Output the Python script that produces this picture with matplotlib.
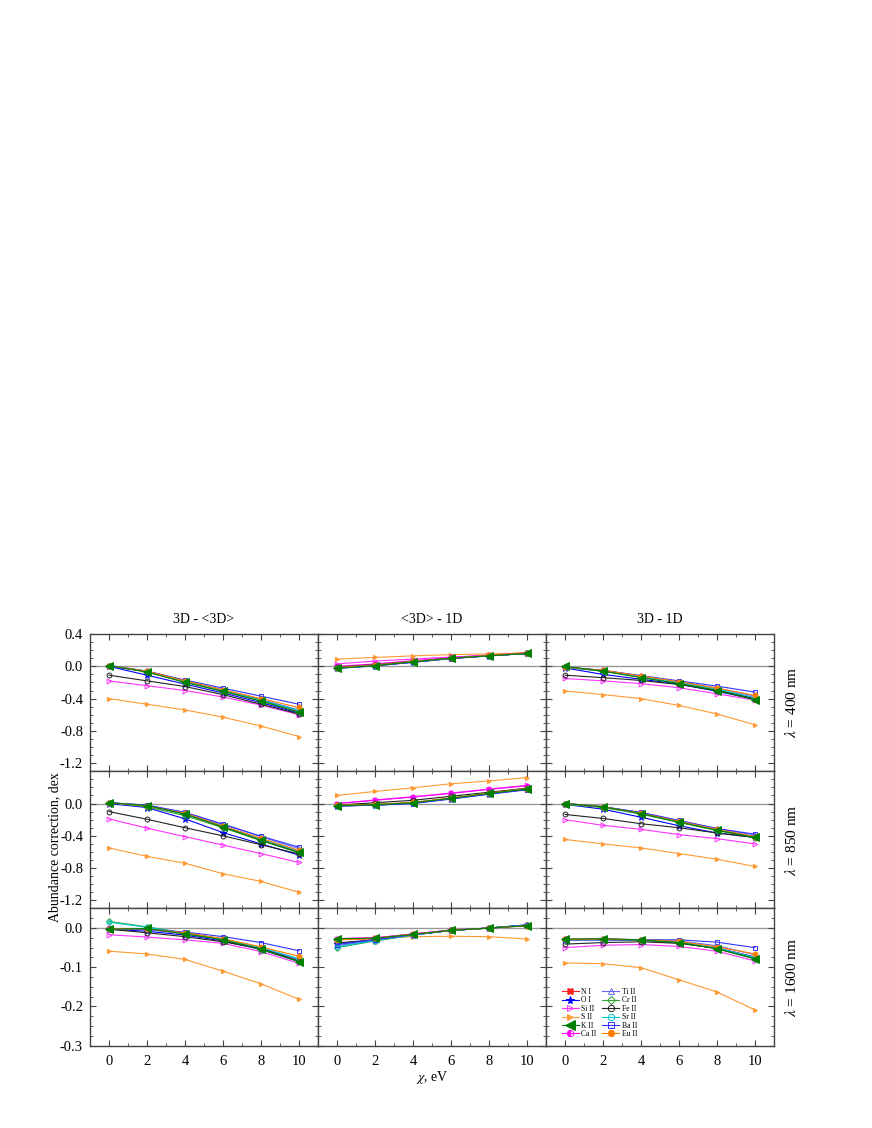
import matplotlib
matplotlib.use("Agg")
import matplotlib.pyplot as plt
from matplotlib.ticker import MultipleLocator, FormatStrFormatter, FixedLocator

plt.rcParams['font.family'] = ['Liberation Serif', 'DejaVu Serif']
plt.rcParams['mathtext.fontset'] = 'stix'
plt.rcParams['axes.unicode_minus'] = False

chi = [0, 2, 4, 6, 8, 10]
species = ['N I', 'O I', 'Si II', 'S II', 'K II', 'Ca II',
           'Ti II', 'Cr II', 'Fe II', 'Sr II', 'Ba II', 'Eu II']
col_titles = ['3D - <3D>', '<3D> - 1D', '3D - 1D']
row_labels = [r'$\lambda$ = 400 nm', r'$\lambda$ = 850 nm', r'$\lambda$ = 1600 nm']
row_yticks = [[-1.2, -0.8, -0.4, 0.0, 0.4],
              [-1.2, -0.8, -0.4, 0.0],
              [-0.3, -0.2, -0.1, 0.0]]

# rows of each array follow the order of `species`
d400_3d_m3d = [
    [0.01, -0.07, -0.19, -0.31, -0.43, -0.56],
    [0.0, -0.11, -0.22, -0.33, -0.45, -0.58],
    [-0.18, -0.24, -0.30, -0.38, -0.48, -0.60],
    [-0.40, -0.47, -0.54, -0.63, -0.74, -0.87],
    [0.01, -0.07, -0.20, -0.31, -0.43, -0.57],
    [0.01, -0.06, -0.18, -0.30, -0.42, -0.55],
    [0.01, -0.06, -0.18, -0.29, -0.41, -0.54],
    [0.01, -0.07, -0.19, -0.30, -0.42, -0.55],
    [-0.11, -0.18, -0.25, -0.35, -0.47, -0.59],
    [0.01, -0.06, -0.18, -0.30, -0.42, -0.55],
    [0.0, -0.06, -0.17, -0.27, -0.37, -0.47],
    [0.01, -0.06, -0.18, -0.29, -0.40, -0.51],
]
d400_m3d_1d = [
    [-0.02, 0.01, 0.06, 0.10, 0.14, 0.17],
    [-0.025, 0.005, 0.05, 0.10, 0.13, 0.16],
    [0.03, 0.065, 0.09, 0.115, 0.135, 0.165],
    [0.09, 0.11, 0.13, 0.145, 0.155, 0.165],
    [-0.025, 0.01, 0.055, 0.10, 0.13, 0.16],
    [0.0, 0.03, 0.07, 0.11, 0.14, 0.165],
    [-0.02, 0.01, 0.055, 0.10, 0.13, 0.16],
    [-0.02, 0.01, 0.055, 0.10, 0.13, 0.16],
    [-0.01, 0.02, 0.06, 0.10, 0.13, 0.16],
    [-0.02, 0.01, 0.055, 0.10, 0.13, 0.16],
    [-0.02, 0.01, 0.05, 0.095, 0.13, 0.16],
    [-0.015, 0.015, 0.06, 0.10, 0.135, 0.165],
]
d400_3d_1d = [
    [-0.01, -0.06, -0.13, -0.21, -0.29, -0.40],
    [-0.02, -0.10, -0.16, -0.22, -0.31, -0.41],
    [-0.15, -0.18, -0.215, -0.265, -0.34, -0.42],
    [-0.305, -0.35, -0.40, -0.485, -0.59, -0.725],
    [0.0, -0.06, -0.14, -0.215, -0.30, -0.415],
    [-0.01, -0.05, -0.12, -0.20, -0.28, -0.39],
    [-0.01, -0.05, -0.12, -0.19, -0.27, -0.37],
    [-0.01, -0.06, -0.13, -0.21, -0.29, -0.40],
    [-0.11, -0.14, -0.175, -0.225, -0.30, -0.40],
    [-0.01, -0.06, -0.13, -0.20, -0.28, -0.39],
    [-0.01, -0.05, -0.115, -0.18, -0.245, -0.32],
    [-0.01, -0.05, -0.12, -0.19, -0.27, -0.36],
]
d850_3d_m3d = [
    [0.01, -0.03, -0.13, -0.29, -0.45, -0.60],
    [0.0, -0.05, -0.19, -0.36, -0.50, -0.64],
    [-0.19, -0.305, -0.41, -0.515, -0.62, -0.73],
    [-0.55, -0.655, -0.74, -0.87, -0.965, -1.10],
    [0.01, -0.025, -0.13, -0.29, -0.455, -0.605],
    [0.01, -0.03, -0.12, -0.28, -0.44, -0.59],
    [0.01, -0.02, -0.11, -0.26, -0.41, -0.56],
    [0.01, -0.04, -0.15, -0.30, -0.46, -0.61],
    [-0.10, -0.195, -0.30, -0.40, -0.51, -0.625],
    [0.01, -0.03, -0.13, -0.28, -0.44, -0.59],
    [0.01, -0.02, -0.11, -0.255, -0.405, -0.54],
    [0.01, -0.03, -0.12, -0.28, -0.43, -0.58],
]
d850_m3d_1d = [
    [-0.02, -0.015, 0.01, 0.065, 0.125, 0.18],
    [-0.03, -0.02, 0.005, 0.06, 0.12, 0.175],
    [0.0, 0.045, 0.085, 0.13, 0.18, 0.225],
    [0.10, 0.15, 0.195, 0.245, 0.28, 0.32],
    [-0.025, -0.015, 0.01, 0.065, 0.125, 0.18],
    [0.0, 0.04, 0.08, 0.125, 0.175, 0.22],
    [-0.03, -0.02, 0.005, 0.06, 0.12, 0.175],
    [-0.03, -0.02, 0.005, 0.06, 0.12, 0.175],
    [-0.02, 0.01, 0.04, 0.09, 0.14, 0.19],
    [-0.025, -0.015, 0.01, 0.065, 0.125, 0.18],
    [-0.03, -0.02, 0.0, 0.055, 0.115, 0.17],
    [-0.02, -0.01, 0.015, 0.07, 0.13, 0.185],
]
d850_3d_1d = [
    [0.0, -0.04, -0.12, -0.225, -0.325, -0.42],
    [-0.01, -0.07, -0.17, -0.275, -0.365, -0.42],
    [-0.20, -0.27, -0.32, -0.385, -0.435, -0.50],
    [-0.445, -0.50, -0.55, -0.62, -0.69, -0.78],
    [0.0, -0.04, -0.125, -0.23, -0.33, -0.42],
    [0.0, -0.04, -0.12, -0.22, -0.32, -0.41],
    [0.0, -0.04, -0.11, -0.21, -0.31, -0.39],
    [-0.01, -0.05, -0.13, -0.235, -0.335, -0.425],
    [-0.135, -0.185, -0.25, -0.30, -0.365, -0.42],
    [0.0, -0.04, -0.12, -0.225, -0.325, -0.415],
    [0.0, -0.04, -0.11, -0.21, -0.31, -0.38],
    [0.0, -0.04, -0.12, -0.22, -0.32, -0.41],
]
d1600_3d_m3d = [
    [-0.002, -0.003, -0.014, -0.03, -0.052, -0.08],
    [-0.003, -0.008, -0.018, -0.033, -0.055, -0.085],
    [-0.017, -0.023, -0.03, -0.039, -0.06, -0.09],
    [-0.059, -0.066, -0.08, -0.11, -0.142, -0.182],
    [-0.003, -0.001, -0.015, -0.03, -0.054, -0.086],
    [-0.001, -0.002, -0.012, -0.028, -0.05, -0.08],
    [-0.002, -0.004, -0.014, -0.03, -0.052, -0.08],
    [0.017, 0.003, -0.013, -0.03, -0.055, -0.083],
    [-0.003, -0.012, -0.022, -0.035, -0.052, -0.085],
    [0.015, 0.002, -0.012, -0.028, -0.05, -0.078],
    [-0.003, -0.003, -0.01, -0.022, -0.037, -0.058],
    [-0.002, -0.002, -0.012, -0.027, -0.048, -0.072],
]
d1600_m3d_1d = [
    [-0.03, -0.027, -0.017, -0.006, 0.0, 0.006],
    [-0.04, -0.03, -0.017, -0.006, 0.0, 0.007],
    [-0.027, -0.025, -0.015, -0.005, 0.0, 0.007],
    [-0.028, -0.027, -0.022, -0.021, -0.022, -0.028],
    [-0.027, -0.026, -0.016, -0.006, 0.0, 0.006],
    [-0.027, -0.025, -0.015, -0.005, 0.0, 0.007],
    [-0.045, -0.032, -0.018, -0.006, 0.0, 0.008],
    [-0.05, -0.033, -0.018, -0.006, 0.0, 0.008],
    [-0.038, -0.03, -0.017, -0.006, 0.0, 0.007],
    [-0.048, -0.032, -0.018, -0.006, 0.0, 0.008],
    [-0.042, -0.03, -0.017, -0.006, 0.0, 0.008],
    [-0.03, -0.026, -0.016, -0.006, 0.0, 0.006],
]
d1600_3d_1d = [
    [-0.029, -0.028, -0.03, -0.036, -0.05, -0.075],
    [-0.03, -0.03, -0.031, -0.037, -0.052, -0.077],
    [-0.05, -0.044, -0.042, -0.047, -0.059, -0.084],
    [-0.089, -0.091, -0.101, -0.132, -0.163, -0.209],
    [-0.028, -0.027, -0.03, -0.037, -0.053, -0.079],
    [-0.029, -0.028, -0.03, -0.035, -0.05, -0.074],
    [-0.03, -0.029, -0.03, -0.033, -0.045, -0.068],
    [-0.03, -0.03, -0.031, -0.037, -0.052, -0.078],
    [-0.041, -0.037, -0.035, -0.039, -0.052, -0.074],
    [-0.03, -0.029, -0.03, -0.035, -0.05, -0.075],
    [-0.03, -0.03, -0.03, -0.03, -0.036, -0.05],
    [-0.029, -0.028, -0.03, -0.034, -0.048, -0.066],
]

panels = [[d400_3d_m3d, d400_m3d_1d, d400_3d_1d],
          [d850_3d_m3d, d850_m3d_1d, d850_3d_1d],
          [d1600_3d_m3d, d1600_m3d_1d, d1600_3d_1d]]

colors = ['#ff2020', '#0000ff', '#ff33ff', '#ff9933', '#008000', '#ff00ff',
          '#6666ff', '#33a033', '#222222', '#00cccc', '#3333ff', '#ff8000']
markers = ['X', '*', '>', '>', '<', 'o', '^', 'D', 'o', 'o', 's', 'o']
fills = ['full', 'full', 'none', 'left', 'full', 'left',
         'none', 'none', 'none', 'none', 'none', 'full']
msizes = [3.5, 4.5, 3.5, 3.0, 5.5, 3.5, 3.5, 3, 3.5, 3.5, 3.5, 3.5]
zorders = [3, 3, 3, 3, 5, 3, 3, 3, 3, 3, 3, 3]

fig = plt.figure(figsize=(8.72, 11.28), dpi=100)
gs = fig.add_gridspec(3, 3, left=0.1032, right=0.8876, top=0.4379, bottom=0.0730,
                      wspace=0, hspace=0)

for r in range(3):
    for c in range(3):
        ax = fig.add_subplot(gs[r, c])
        ax.axhline(0, color='#999999', lw=1.0, zorder=1)
        data = panels[r][c]
        for i, sp in enumerate(species):
            ax.plot(chi, data[i], color=colors[i], marker=markers[i],
                    fillstyle=fills[i], markersize=msizes[i], lw=0.8,
                    markeredgewidth=0.7, label=sp, zorder=zorders[i])
        ax.set_xlim(-1, 11)
        ax.xaxis.set_major_locator(MultipleLocator(2))
        ax.xaxis.set_minor_locator(MultipleLocator(1))
        ax.yaxis.set_major_locator(FixedLocator(row_yticks[r]))
        if r < 2:
            ax.set_ylim(-1.3, 0.4)
            ax.yaxis.set_minor_locator(MultipleLocator(0.1))
            ax.set_xticklabels([])
        else:
            ax.set_ylim(-0.3, 0.05)
            ax.yaxis.set_minor_locator(MultipleLocator(0.025))
        ax.yaxis.set_major_formatter(FormatStrFormatter('%.1f'))
        if c > 0:
            ax.set_yticklabels([])
        ax.tick_params(which='both', direction='in', top=True, right=True,
                       labelsize=10.5, color='#444444')
        ax.tick_params(which='major', length=4, width=0.8)
        ax.tick_params(which='minor', length=2, width=0.6)
        ax.tick_params(axis='y', pad=5)
        ax.tick_params(axis='x', pad=7)
        for s in ax.spines.values():
            s.set_linewidth(1.0)
            s.set_color('#444444')
        if r == 0:
            ax.set_title(col_titles[c], fontsize=10, pad=8)
        if c == 2:
            ax.text(1.075, 0.5, row_labels[r], rotation=90, transform=ax.transAxes,
                    ha='center', va='center', fontsize=11)
        if r == 2 and c == 2:
            ax.legend(loc='upper left', bbox_to_anchor=(0.04, 0.47), ncol=2,
                      frameon=False, fontsize=5.5, handlelength=2.2,
                      labelspacing=0.05, columnspacing=0.8, handletextpad=0.3,
                      markerscale=1.3)

fig.text(0.063, 0.2487, 'Abundance correction, dex', rotation=90,
         ha='center', va='center', fontsize=10)
fig.text(0.4954, 0.0445, r'$\chi$, eV', ha='center', va='center', fontsize=10)

fig.savefig('out.png', dpi=100)
